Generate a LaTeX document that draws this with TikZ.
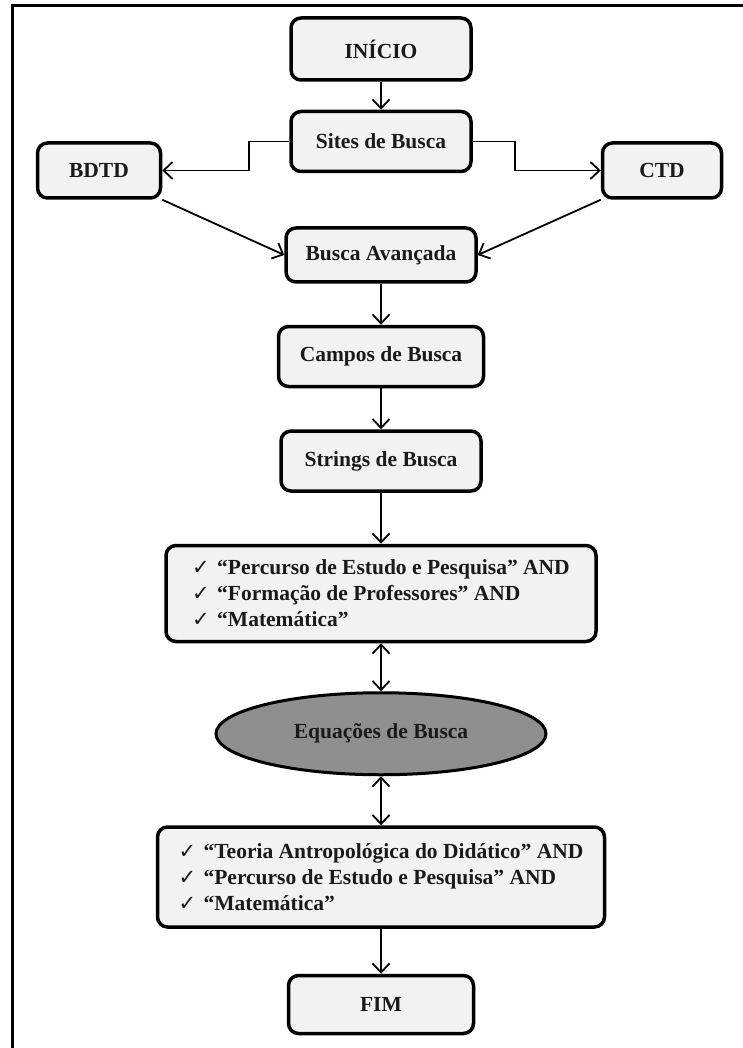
\documentclass[tikz,border=0pt]{standalone}
\usepackage{fontspec}
\setmainfont{Liberation Serif}
\newfontfamily\checkfont{DejaVu Sans}
\usetikzlibrary{positioning,shapes.geometric,arrows.meta}
\definecolor{boxfill}{HTML}{F2F2F2}
\definecolor{ovalfill}{HTML}{8F8F8F}
\definecolor{ink}{HTML}{1A1A1A}
\newcommand{\tickmark}{\makebox[25pt][l]{\checkfont\fontsize{21}{21}\selectfont ✓}}
\tikzset{
    search box/.style={draw, line width=3.5pt, rounded corners=10pt,
        fill=boxfill, text=ink, inner sep=0pt,
        font=\bfseries\fontsize{21.5}{26}\selectfont,
        minimum width=180pt, minimum height=60pt},
    list box/.style={search box, align=left,
        minimum width=430pt, minimum height=96pt},
    oval/.style={ellipse, draw, line width=3pt, fill=ovalfill, text=ink,
        inner sep=0pt, font=\bfseries\fontsize{21.5}{26}\selectfont,
        minimum width=330pt, minimum height=82pt},
    link/.style={line width=1.8pt,
        -{Straight Barb[length=9pt,width=17pt,line width=1.8pt]}},
    both link/.style={line width=1.8pt,
        {Straight Barb[length=9pt,width=17pt,line width=1.8pt]}-{Straight Barb[length=9pt,width=17pt,line width=1.8pt]}}
}
\begin{document}
\begin{tikzpicture}[x=1pt,y=-1pt]
\useasboundingbox (0,0) rectangle (743,1048);
\draw[line width=3pt] (745,6) -- (12,6) -- (12,1050);

\node[search box, minimum height=62pt] (inicio) at (381,49) {INÍCIO};
\node[search box, below=28pt of inicio] (sites) {Sites de Busca};
\node[search box, minimum width=123pt, minimum height=55pt] (bdtd) at (99,170.5) {BDTD};
\node[search box, minimum width=119pt, minimum height=55pt] (ctd) at (662,170.5) {CTD};
\node[search box, minimum width=190pt, minimum height=54pt, below=53pt of sites] (busca) {Busca Avançada};
\node[search box, minimum width=205pt, below=41pt of busca] (campos) {Campos de Busca};
\node[search box, minimum width=200pt, below=41pt of campos] (strings) {Strings de Busca};
\node[list box, below=51pt of strings] (termos1)
    {\tickmark “Percurso de Estudo e Pesquisa” AND\\
     \tickmark “Formação de Professores” AND\\
     \tickmark “Matemática”};
\node[oval, below=48pt of termos1] (equacoes) {Equações de Busca};
\node[list box, minimum width=447pt, minimum height=100pt, below=49pt of equacoes] (termos2)
    {\tickmark “Teoria Antropológica do Didático” AND\\
     \tickmark “Percurso de Estudo e Pesquisa” AND\\
     \tickmark “Matemática”};
\node[search box, minimum width=185pt, minimum height=58pt, below=45pt of termos2] (fim) {FIM};

% ligacoes
\draw[link] (inicio) -- (sites);
\draw[link] (sites.west) -- ++(-40,0) |- (bdtd.east);
\draw[link] (sites.east) -- ++(42,0) |- (ctd.west);
\draw[link] (bdtd.south east) -- (busca.west);
\draw[link] (ctd.south west) -- (busca.east);
\draw[link] (busca) -- (campos);
\draw[link] (campos) -- (strings);
\draw[link] (strings) -- (termos1);
\draw[both link] (termos1) -- (equacoes);
\draw[both link] (equacoes) -- (termos2);
\draw[link] (termos2) -- (fim);
\end{tikzpicture}
\end{document}
